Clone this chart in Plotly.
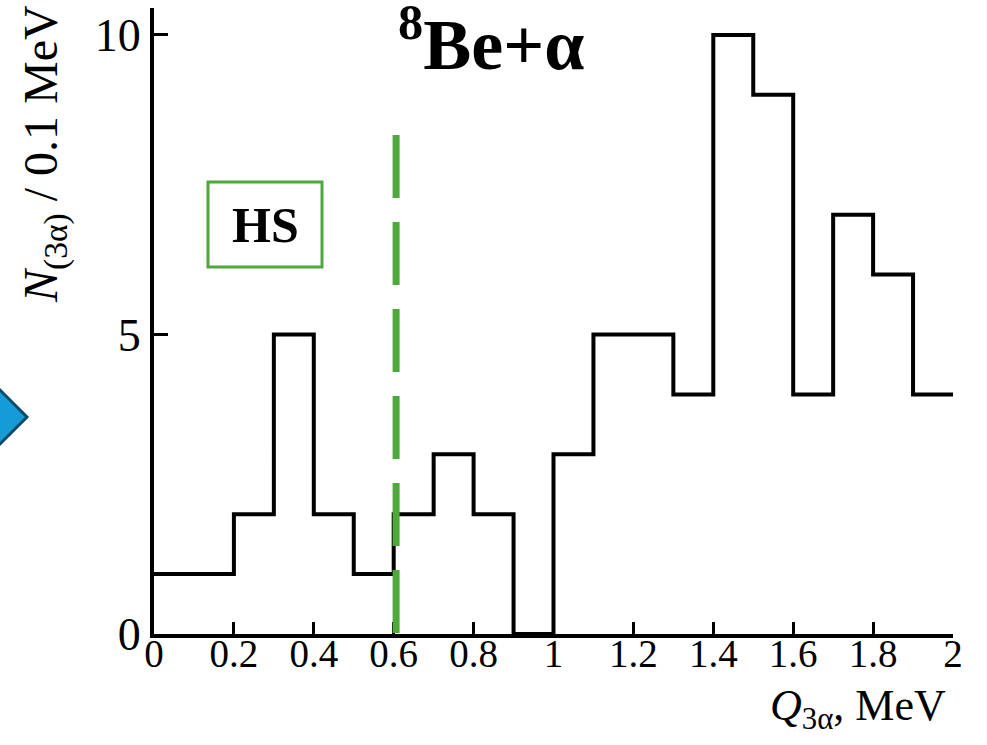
import plotly.graph_objects as go

# ---- data ----
bin_edges = [0.0, 0.1, 0.2, 0.3, 0.4, 0.5, 0.6, 0.7, 0.8, 0.9, 1.0,
             1.1, 1.2, 1.3, 1.4, 1.5, 1.6, 1.7, 1.8, 1.9, 2.0]
counts = [1, 1, 2, 5, 2, 1, 2, 3, 2, 0, 3, 5, 5, 4, 10, 9, 4, 7, 6, 4]
x_tickvals = [0, 0.2, 0.4, 0.6, 0.8, 1.0, 1.2, 1.4, 1.6, 1.8, 2.0]
x_ticktext = ["0", "0.2", "0.4", "0.6", "0.8", "1", "1.2", "1.4", "1.6", "1.8", "2"]
y_tickvals = [0, 5, 10]
threshold_q = 0.606
threshold_top = 8.33

# ---- layout geometry ----
W, H = 987, 745
ML, MR, MT, MB = 154, 34, 8, 111
PW, PH = W - ML - MR, H - MT - MB
FONT = "Liberation Serif"
GREEN = "#4FA83D"


def px_x(p):
    return (p - ML) / PW


def px_y(p):
    return (H - MB - p) / PH


fig = go.Figure()
fig.add_trace(go.Scatter(
    x=bin_edges,
    y=counts + [counts[-1]],
    mode="lines",
    line=dict(shape="hv", color="black", width=4),
    cliponaxis=False,
    showlegend=False,
    hoverinfo="skip",
))

# dashed threshold line
fig.add_shape(type="line", xref="x", yref="y",
              x0=threshold_q, x1=threshold_q, y0=threshold_top, y1=0,
              line=dict(color=GREEN, width=7, dash="63px,24px"))

# HS box
fig.add_shape(type="rect", xref="paper", yref="paper",
              x0=px_x(208), x1=px_x(322), y0=px_y(267), y1=px_y(182),
              line=dict(color=GREEN, width=3), fillcolor="rgba(0,0,0,0)")
fig.add_annotation(xref="paper", yref="paper", x=px_x(265), y=px_y(225),
                   text="<b>HS</b>", showarrow=False,
                   xanchor="center", yanchor="middle",
                   font=dict(family=FONT, size=50, color="black"))

# blue diamond at left edge
dx = [27, 0, -27, 0]
dy = [417, 390, 417, 444]
path = "M " + " L ".join(f"{px_x(a)},{px_y(b)}" for a, b in zip(dx, dy)) + " Z"
fig.add_shape(type="path", xref="paper", yref="paper", path=path,
              fillcolor="#159BD5", line=dict(color="#0B4A6B", width=3))

# title text
fig.add_annotation(xref="paper", yref="paper", x=px_x(491), y=px_y(39),
                   text="<b><sup>8</sup>Be+α</b>", showarrow=False,
                   xanchor="center", yanchor="middle",
                   font=dict(family=FONT, size=72, color="black"))

# axis titles
fig.add_annotation(xref="paper", yref="paper", x=px_x(948), y=px_y(679),
                   text="<i>Q</i><sub>3α</sub>, MeV", showarrow=False,
                   xanchor="right", yanchor="top",
                   font=dict(family=FONT, size=44, color="black"))
fig.add_annotation(xref="paper", yref="paper", x=px_x(44), y=px_y(154),
                   text="<i>N</i><sub>(3α)</sub> / 0.1 MeV", showarrow=False,
                   textangle=-90, xanchor="center", yanchor="middle",
                   font=dict(family=FONT, size=48, color="black"))

fig.update_layout(
    width=W, height=H,
    margin=dict(l=ML, r=MR, t=MT, b=MB, autoexpand=False),
    paper_bgcolor="white", plot_bgcolor="white",
    font=dict(family=FONT, color="black"),
    xaxis=dict(range=[0, 2], tickvals=x_tickvals, ticktext=x_ticktext,
               ticks="inside", ticklen=12, tickwidth=3, tickcolor="black",
               showline=True, linewidth=4, linecolor="black",
               showgrid=False, zeroline=False, ticklabelstandoff=-18,
               tickfont=dict(family=FONT, size=39, color="black")),
    yaxis=dict(range=[0, 10.45], tickvals=y_tickvals,
               ticks="inside", ticklen=14, tickwidth=3, tickcolor="black",
               showline=True, linewidth=4, linecolor="black",
               showgrid=False, zeroline=False,
               tickfont=dict(family=FONT, size=46, color="black")),
)

fig.write_html("out.html", config={"displayModeBar": False},
               post_script="document.body.style.margin='0px';")
